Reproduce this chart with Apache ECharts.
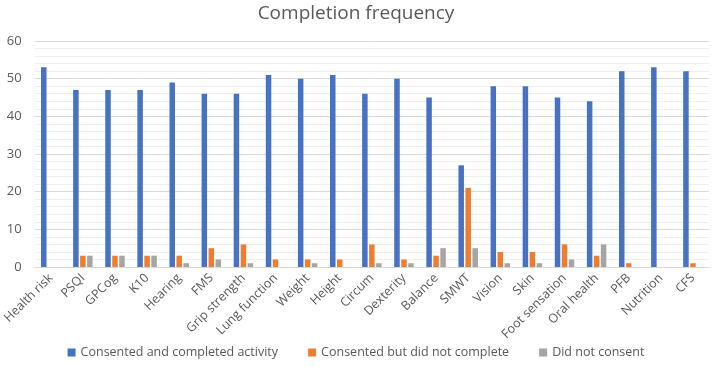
<!DOCTYPE html>
<html><head><meta charset="utf-8">
<script src="https://cdn.jsdelivr.net/npm/echarts@6/dist/echarts.min.js"></script>
<style>html,body{margin:0;padding:0;background:#fff}#c{width:712px;height:378px}</style>
</head><body><div id="c"></div>
<script>
const categories = ["Health risk","PSQI","GPCog","K10","Hearing","FMS","Grip strength","Lung function","Weight","Height","Circum","Dexterity","Balance","SMWT","Vision","Skin","Foot sensation","Oral health","PFB","Nutrition","CFS"];
const completed = [53,47,47,47,49,46,46,51,50,51,46,50,45,27,48,48,45,44,52,53,52];
const notCompleted = [0,3,3,3,3,5,6,2,2,2,6,2,3,21,4,4,6,3,1,0,1];
const notConsent = [0,3,3,3,1,2,1,0,1,0,1,1,5,5,1,1,2,6,0,0,0];
const seriesNames = ["Consented and completed activity","Consented but did not complete","Did not consent"];
const colors = ["#4472c4","#ed7d31","#a5a5a5"];
const FONT = "Open Sans";
const chart = echarts.init(document.getElementById('c'));
const mk = (name, data, i) => ({name, type:'bar', data, barWidth:5.5, barGap:'27%', itemStyle:{color:colors[i]}});
chart.setOption({
  animation:false,
  title:{text:'Completion frequency', left:'center', top:-1, textStyle:{fontFamily:FONT, fontSize:19, fontWeight:'normal', color:'#595959'}},
  legend:{bottom:14, left:'center', itemWidth:8, itemHeight:8, itemGap:30, icon:'rect',
    textStyle:{fontFamily:FONT, fontSize:12.5, color:'#595959'}},
  grid:{left:29, right:3, top:41, bottom:111},
  xAxis:{type:'category', data:categories,
    axisLine:{lineStyle:{color:'#d9d9d9'}}, axisTick:{show:false},
    axisLabel:{rotate:45, interval:0, fontFamily:FONT, fontSize:12.5, color:'#595959', margin:9}},
  yAxis:{type:'value', min:0, max:60, interval:10,
    axisLine:{show:false}, axisTick:{show:false},
    axisLabel:{fontFamily:FONT, fontSize:13, color:'#595959', margin:13},
    splitLine:{lineStyle:{color:'#d9d9d9', width:1}},
    minorTick:{show:false, splitNumber:5},
    minorSplitLine:{show:true, lineStyle:{color:'#efefef', width:1}}},
  series:[mk(seriesNames[0],completed,0), mk(seriesNames[1],notCompleted,1), mk(seriesNames[2],notConsent,2)]
});
</script></body></html>
